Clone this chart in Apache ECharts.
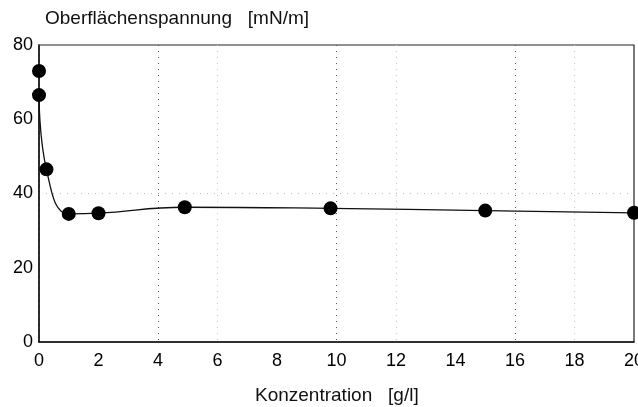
<!DOCTYPE html>
<html>
<head>
<meta charset="utf-8">
<script src="https://cdn.jsdelivr.net/npm/echarts@6/dist/echarts.min.js"></script>
<style>
  html, body { margin: 0; padding: 0; background: #fff; }
  #chart { width: 638px; height: 407px; }
</style>
</head>
<body>
<div id="chart"></div>
<script>
// Surface tension versus surfactant concentration
const concentration = [0, 0, 0.25, 1, 2, 4.9, 9.8, 15, 20];   // g/l
const tension = [73, 66.5, 46.5, 34.5, 34.7, 36.3, 36.0, 35.4, 34.8]; // mN/m
const xTicks = { min: 0, max: 20, interval: 2 };
const yTicks = { min: 0, max: 80, interval: 20 };
const yTitle = 'Oberflächenspannung   [mN/m]';
const xTitle = 'Konzentration   [g/l]';

const points = concentration.map((c, i) => [c, tension[i]]);
// Fitted curve runs through every measurement except the pure-water value
const curve = points.slice(1);

const font = '"Liberation Sans", Arial, sans-serif';
const chart = echarts.init(document.getElementById('chart'), null, { renderer: 'canvas' });

chart.setOption({
  animation: false,
  backgroundColor: '#ffffff',
  grid: {
    left: 39, right: 4, top: 45, bottom: 65,
    show: true, borderColor: '#222', borderWidth: 1.2,
    containLabel: false, outerBoundsMode: 'none'
  },
  graphic: [
    { type: 'text', left: 45, top: 9, style: { text: yTitle, font: '19px ' + font, fill: '#111' } },
    { type: 'text', left: 255, top: 386, style: { text: xTitle, font: '19px ' + font, fill: '#111' } }
  ],
  xAxis: {
    type: 'value',
    min: xTicks.min, max: xTicks.max, interval: xTicks.interval,
    axisLine: { show: true, lineStyle: { color: '#111', width: 1.5 } },
    axisTick: { show: false },
    axisLabel: { color: '#000', fontSize: 18, fontFamily: font, margin: 10 },
    splitLine: { show: true, lineStyle: { color: ['#c8c8c8', 'rgba(0,0,0,0)', '#555'], type: [1, 5], width: 1 } }
  },
  yAxis: {
    type: 'value',
    min: yTicks.min, max: yTicks.max, interval: yTicks.interval,
    axisLine: { show: true, lineStyle: { color: '#111', width: 1.5 } },
    axisTick: { show: false },
    axisLabel: { color: '#000', fontSize: 18, fontFamily: font, margin: 6 },
    splitLine: { show: true, lineStyle: { color: ['rgba(0,0,0,0)', 'rgba(0,0,0,0)', '#bbb', 'rgba(0,0,0,0)', 'rgba(0,0,0,0)'], type: [1, 6], width: 1 } }
  },
  series: [
    {
      type: 'line',
      data: curve,
      smooth: 0.45,
      showSymbol: false,
      lineStyle: { color: '#111', width: 1.3 },
      z: 2
    },
    {
      type: 'scatter',
      data: points,
      symbol: 'circle',
      symbolSize: 14,
      itemStyle: { color: '#000', opacity: 1 },
      z: 3
    }
  ]
});
</script>
</body>
</html>
